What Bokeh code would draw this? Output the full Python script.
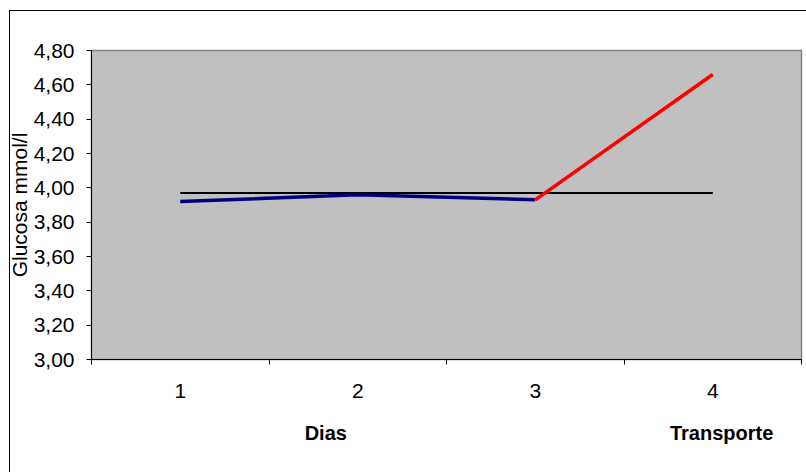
from bokeh.plotting import figure
from bokeh.models import FixedTicker, Range1d, LinearAxis
from bokeh.embed import file_html
from bokeh.resources import INLINE

# ---- data ----
dias = [1, 2, 3]
glucosa_dias = [3.92, 3.96, 3.93]
transporte_x = [3, 4]
glucosa_transporte = [3.93, 4.66]
referencia_x = [1, 2, 3, 4]
referencia = [3.97, 3.97, 3.97, 3.97]
x_ticks = [1, 2, 3, 4]
x_tick_labels = ["1", "2", "3", "4"]
y_ticks = [3.0, 3.2, 3.4, 3.6, 3.8, 4.0, 4.2, 4.4, 4.6, 4.8]
y_tick_labels = ["3,00", "3,20", "3,40", "3,60", "3,80", "4,00", "4,20", "4,40", "4,60", "4,80"]
y_title = "Glucosa mmol/l"
x_titles = ["Dias", "Transporte"]
x_title_pos = [1.82, 4.05]

FONT = "Liberation Sans"

# chart-area border (top and left edges) drawn behind a transparent canvas border
border_css = {
    "background-color": "white",
    "background-image": "linear-gradient(#000, #000), linear-gradient(#000, #000)",
    "background-size": "1px 462px, 797px 1px",
    "background-position": "9px 10px, 9px 10px",
    "background-repeat": "no-repeat",
}

p = figure(width=806, height=472, frame_width=710, frame_height=309,
           min_border_left=91, min_border_right=5, min_border_top=50, min_border_bottom=113,
           x_range=Range1d(0.5, 4.5), y_range=Range1d(3.0, 4.8),
           output_backend="svg", toolbar_location=None, styles=border_css)

p.background_fill_color = "#C0C0C0"
p.border_fill_alpha = 0
p.outline_line_color = "#808080"
p.outline_line_width = 1.5
p.xgrid.visible = False
p.ygrid.visible = False

# x axis
xa = p.xaxis[0]
xa.ticker = FixedTicker(ticks=x_ticks, minor_ticks=[0.5, 1.5, 2.5, 3.5, 4.5])
xa.major_label_overrides = {t: l for t, l in zip(x_ticks, x_tick_labels)}
xa.major_tick_line_color = None
xa.major_tick_out = 0
xa.major_tick_in = 0
xa.minor_tick_line_color = "black"
xa.minor_tick_out = 5
xa.minor_tick_in = 0
xa.axis_line_color = "black"
xa.major_label_text_font = FONT
xa.major_label_text_font_size = "21px"
xa.major_label_text_color = "black"
xa.major_label_standoff = 19

# x titles as a second, line-less axis
xt = LinearAxis(ticker=FixedTicker(ticks=x_title_pos, minor_ticks=[]),
                major_label_overrides={t: l for t, l in zip(x_title_pos, x_titles)},
                axis_line_color=None, major_tick_line_color=None, minor_tick_line_color=None,
                major_tick_out=0, major_tick_in=0, minor_tick_out=0, minor_tick_in=0,
                major_label_text_font=FONT, major_label_text_font_size="20px",
                major_label_text_font_style="bold", major_label_text_color="black",
                major_label_standoff=21)
p.add_layout(xt, "below")

# y axis
ya = p.yaxis[0]
ya.ticker = FixedTicker(ticks=y_ticks)
ya.major_label_overrides = {t: l for t, l in zip(y_ticks, y_tick_labels)}
ya.minor_tick_line_color = None
ya.major_tick_out = 5
ya.major_tick_in = 0
ya.major_tick_line_color = "black"
ya.axis_line_color = "black"
ya.major_label_text_font = FONT
ya.major_label_text_font_size = "21px"
ya.major_label_text_color = "black"
ya.major_label_standoff = 12
ya.axis_label = y_title
ya.axis_label_text_font = FONT
ya.axis_label_text_font_size = "21px"
ya.axis_label_text_font_style = "normal"
ya.axis_label_text_color = "black"
ya.axis_label_standoff = 0

# lines
p.line(referencia_x, referencia, line_color="black", line_width=1.8)
p.line(dias, glucosa_dias, line_color="#000080", line_width=3.5)
p.line(transporte_x, glucosa_transporte, line_color="#FF0000", line_width=3.5)

open("out.html", "w").write(file_html(p, INLINE))
